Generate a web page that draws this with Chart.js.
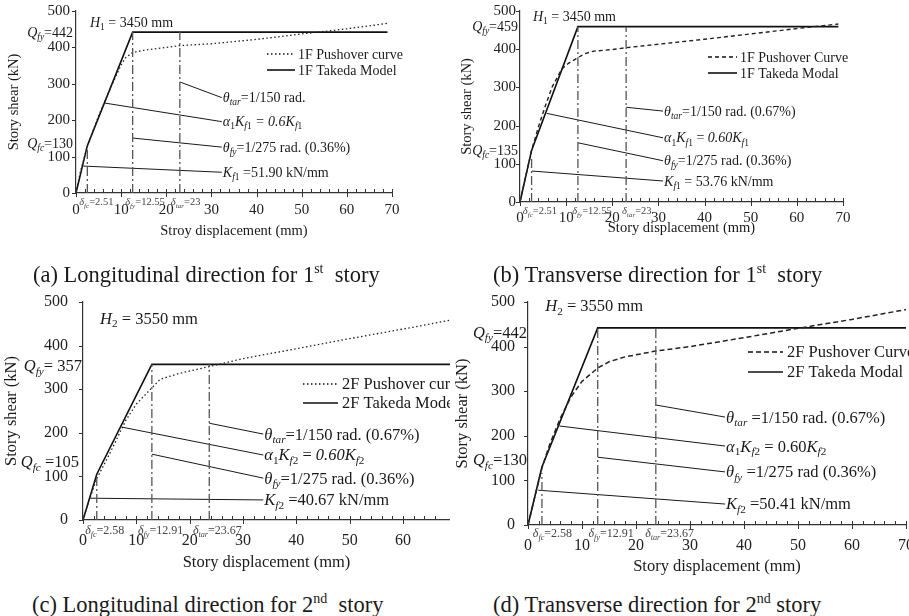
<!DOCTYPE html>
<html>
<head>
<meta charset="utf-8">
<script src="https://cdn.jsdelivr.net/npm/chart.js@4/dist/chart.umd.min.js"></script>
<style>
  body { margin: 0; background: #fff; width: 909px; height: 616px; position: relative; overflow: hidden; font-family: "Liberation Serif", serif; }
  canvas { position: absolute; }
  .cap { position: absolute; font-size: 22.5px; line-height: 26px; color: #1a1a1a; white-space: nowrap; }
  .cap sup { font-size: 14px; }
</style>
</head>
<body>
<canvas id="ca" width="450" height="250" style="left:0;top:0"></canvas>
<canvas id="cb" width="459" height="250" style="left:450px;top:0"></canvas>
<canvas id="cc" width="450" height="300" style="left:0;top:280px"></canvas>
<canvas id="cd" width="459" height="300" style="left:450px;top:280px"></canvas>
<div class="cap" style="left:33px;top:256px">(a) Longitudinal direction for 1<sup>st</sup>&nbsp; story</div>
<div class="cap" style="left:493px;top:256px">(b) Transverse direction for 1<sup>st</sup>&nbsp; story</div>
<div class="cap" style="left:32px;top:586px">(c) Longitudinal direction for 2<sup>nd</sup>&nbsp; story</div>
<div class="cap" style="left:493px;top:586px">(d) Transverse direction for 2<sup>nd</sup> story</div>
<script>
const xMajor = [0, 10, 20, 30, 40, 50, 60, 70];
const yMajor = [0, 100, 200, 300, 400, 500];

// (a) 1F longitudinal
const takedaA = [[0, 0], [2.51, 130], [12.55, 442], [69, 442]];
const pushA = [[0, 0], [1, 60], [2.51, 128], [5, 212], [8, 298], [10, 352], [11, 372], [12.55, 386], [15, 392],
  [20, 400], [23, 405], [30, 410], [40, 422], [50, 437], [60, 451], [69, 466]];
const marksA = [2.51, 12.55, 23];
const markTopsA = [118, 442, 442];
const leadersA = [[23, 305, 32.3, 262], [6.4, 247, 32.3, 196], [12.55, 151, 32.3, 126], [1.6, 74, 32.3, 57]];
const leaderTextA = ['*θ*_{*tar*}=1/150 rad.', '*α*_{1}*K*_{*f*1} *= 0.6K*_{*f*1}', '*θ*_{*fy*}=1/275 rad. (0.36%)', '*K*_{*f*1} =51.90 kN/mm'];
const deltaA = ['*δ*_{*fc*}=2.51', '*δ*_{*fy*}=12.55', '*δ*_{*tar*}=23'];
const deltaXA = [0.7, 10.9, 21];
const qTextA = ['*Q*_{*fy*}=442', '*Q*_{*fc*}=130'];
const qValA = [442, 137];

// (b) 1F transverse
const takedaB = [[0, 0], [2.51, 135], [12.55, 459], [69, 459]];
const pushB = [[0, 0], [1, 55], [2.51, 135], [4, 197], [5.5, 252], [7, 302], [9.1, 349], [10.5, 363], [12.55, 378],
  [14, 388], [16, 395], [20, 399], [23, 404], [30, 413], [40, 426], [50, 440], [60, 454], [69, 466]];
const marksB = [2.51, 12.55, 23];
const markTopsB = [118, 459, 459];
const leadersB = [[23, 248, 31, 238], [5.8, 232, 31, 168], [12.55, 155, 31, 108], [2.6, 81, 31, 55]];
const leaderTextB = ['*θ*_{*tar*}=1/150 rad. (0.67%)', '*α*_{1}*K*_{*f*1} = *0.60K*_{*f*1}', '*θ*_{*fy*}=1/275 rad. (0.36%)', '*K*_{*f*1} = 53.76 kN/mm'];
const deltaB = ['*δ*_{*fc*}=2.51', '*δ*_{*fy*}=12.55', '*δ*_{*tar*}=23'];
const deltaXB = [0.6, 11.3, 22.1];
const qTextB = ['*Q*_{*fy*}=459', '*Q*_{*fc*}=135'];
const qValB = [459, 136];

// (c) 2F longitudinal
const takedaC = [[0, 0], [2.58, 105], [12.91, 357], [70, 357]];
const pushC = [[0, 0], [1, 40], [2.58, 95], [5, 152], [8, 228], [10, 266], [12.91, 303], [14.5, 323], [18, 336],
  [23.67, 352], [30, 370], [40, 393], [50, 416], [60, 438], [70, 461]];
const marksC = [2.58, 12.91, 23.67];
const markTopsC = [100, 357, 357];
const leadersC = [[23.67, 222, 33.8, 197], [7.3, 213, 33.8, 149], [12.91, 151, 33.8, 96], [1.3, 50, 33.8, 46]];
const leaderTextC = ['*θ*_{*tar*}=1/150 rad. (0.67%)', '*α*_{1}*K*_{*f*2} = *0.60K*_{*f*2}', '*θ*_{*fy*}=1/275 rad. (0.36%)', '*K*_{*f*2} =40.67 kN/mm'];
const deltaC = ['*δ*_{*fc*}=2.58', '*δ*_{*fy*}=12.91', '*δ*_{*tar*}=23.67'];
const deltaXC = [0.4, 10.3, 20.6];
const qTextC = ['*Q*_{*fy*}= 357', '*Q*_{*fc*} =105'];
const qValC = [354, 133];

// (d) 2F transverse
const takedaD = [[0, 0], [2.58, 130], [12.91, 442], [70, 442]];
const pushD = [[0, 0], [1, 50], [2.58, 128], [4, 180], [6, 240], [8, 288], [10, 322], [12.91, 352], [15, 366],
  [18, 377], [23.67, 390], [30, 400], [40, 420], [50, 441], [60, 461], [70, 483]];
const marksD = [2.58, 12.91, 23.67];
const markTopsD = [117, 442, 442];
const leadersD = [[23.67, 269, 36.5, 242], [5.8, 222, 36.5, 177], [12.91, 152, 36.5, 119], [1.9, 78, 36.5, 47]];
const leaderTextD = ['*θ*_{*tar*} =1/150 rad. (0.67%)', '*α*_{1}*K*_{*f*2} = 0.60*K*_{*f*2}', '*θ*_{*fy*} =1/275 rad (0.36%)', '*K*_{*f*2} =50.41 kN/mm'];
const deltaD = ['*δ*_{*fc*}=2.58', '*δ*_{*fy*}=12.91', '*δ*_{*tar*}=23.67'];
const deltaXD = [0.9, 11.2, 21.7];
const qTextD = ['*Q*_{*fy*}=442', '*Q*_{*fc*}=130'];
const qValD = [432, 146];

const FONT = '"Liberation Serif", serif';
const INK = '#1a1a1a';

// tiny markup: *..* italic, _{..} subscript
function parseRich(s) {
  const out = [];
  let it = false, sub = false, buf = '';
  const push = () => { if (buf) { out.push({ t: buf, it, sub }); buf = ''; } };
  for (let i = 0; i < s.length; i++) {
    const c = s[i];
    if (c === '*') { push(); it = !it; }
    else if (c === '_' && s[i + 1] === '{') { push(); sub = true; i++; }
    else if (c === '}' && sub) { push(); sub = false; }
    else buf += c;
  }
  push();
  return out;
}

function drawRich(ctx, s, x, y, size, align, color) {
  const segs = parseRich(s);
  const fnt = g => (g.it ? 'italic ' : '') + (g.sub ? size * 0.68 : size) + 'px ' + FONT;
  let w = 0;
  segs.forEach(g => { ctx.font = fnt(g); g.w = ctx.measureText(g.t).width; w += g.w; });
  let cx = align === 'right' ? x - w : x;
  ctx.textBaseline = 'alphabetic';
  ctx.textAlign = 'left';
  ctx.fillStyle = color || INK;
  const base = y + size * 0.33;
  segs.forEach(g => { ctx.font = fnt(g); ctx.fillText(g.t, cx, g.sub ? base + size * 0.22 : base); cx += g.w; });
}

const pts = arr => arr.map(p => ({ x: p[0], y: p[1] }));

function makeChart(id, d) {
  const datasets = [];
  d.marks.forEach((m, i) => datasets.push({
    data: [{ x: m, y: 0 }, { x: m, y: d.markTops[i] }],
    borderColor: '#555', borderWidth: 1.3, borderDash: [9, 3, 2, 3], pointRadius: 0
  }));
  d.leaders.forEach(l => datasets.push({
    data: [{ x: l[0], y: l[1] }, { x: l[2], y: l[3] }],
    borderColor: INK, borderWidth: 1, pointRadius: 0
  }));
  datasets.push({ data: pts(d.push), borderColor: '#222', borderWidth: d.pushWidth, borderDash: d.pushDash, pointRadius: 0 });
  datasets.push({ data: pts(d.takeda), borderColor: '#111', borderWidth: 1.6, pointRadius: 0 });

  const annot = {
    id: 'annot',
    afterDatasetsDraw(chart) {
      const { ctx, scales: { x, y }, chartArea: ca } = chart;
      ctx.save();
      ctx.strokeStyle = '#333';
      ctx.lineWidth = 1;
      x.ticks.forEach(t => {
        if (t.value % 2 !== 0) return;
        const px = Math.round(x.getPixelForValue(t.value)) + 0.5;
        const maj = xMajor.includes(t.value);
        ctx.beginPath();
        ctx.moveTo(px, ca.bottom - 4);
        ctx.lineTo(px, ca.bottom + (maj ? 4 : 0));
        ctx.stroke();
      });
      yMajor.forEach(v => {
        const py = Math.round(y.getPixelForValue(v)) + 0.5;
        ctx.beginPath();
        ctx.moveTo(ca.left - 4, py);
        ctx.lineTo(ca.left, py);
        ctx.stroke();
      });
      d.leaders.forEach((l, i) => {
        drawRich(ctx, d.leaderText[i], x.getPixelForValue(l[2]) + 1, y.getPixelForValue(l[3]), d.fs);
      });
      drawRich(ctx, d.hText, x.getPixelForValue(d.hPos[0]), y.getPixelForValue(d.hPos[1]), d.fs);
      d.qText.forEach((q, i) => {
        drawRich(ctx, q, ca.left - d.qGap[i], y.getPixelForValue(d.qVal[i]), d.qFs, 'right');
      });
      d.delta.forEach((s, i) => {
        drawRich(ctx, s, x.getPixelForValue(d.deltaX[i]), ca.bottom + d.deltaDy, d.dFs, 'left', '#444');
      });
      const lg = d.legend;
      lg.labels.forEach((lab, i) => {
        ctx.beginPath();
        ctx.setLineDash(i === 0 ? d.pushDash : []);
        ctx.lineWidth = i === 0 ? d.pushWidth : 1.6;
        ctx.strokeStyle = '#111';
        ctx.moveTo(lg.x1, lg.ys[i]);
        ctx.lineTo(lg.x2, lg.ys[i]);
        ctx.stroke();
        ctx.setLineDash([]);
        ctx.font = d.fs + 'px ' + FONT;
        ctx.fillStyle = INK;
        ctx.textBaseline = 'middle';
        ctx.textAlign = 'left';
        ctx.fillText(lab, lg.tx, lg.ys[i] + 1);
      });
      ctx.restore();
    }
  };

  return new Chart(document.getElementById(id), {
    type: 'line',
    data: { datasets },
    plugins: [annot],
    options: {
      responsive: false,
      animation: false,
      layout: { padding: d.pad },
      plugins: { legend: { display: false }, tooltip: { enabled: false } },
      scales: {
        x: {
          type: 'linear', min: 0, max: d.xMax,
          border: { display: true, color: '#333', width: 1.2 },
          grid: { display: false, drawTicks: false },
          ticks: {
            stepSize: 2, autoSkip: false, maxRotation: 0, padding: d.xTickPad,
            font: { family: FONT, size: d.tickFs }, color: '#222',
            callback: v => xMajor.includes(v) ? String(v) : ''
          },
          title: { display: true, text: d.xTitle, font: { family: FONT, size: d.tFs }, color: INK, padding: { top: 0, bottom: d.xTitlePad } },
          afterFit: s => { s.height = d.xH; s.paddingLeft = 0; s.paddingRight = 0; }
        },
        y: {
          type: 'linear', min: 0, max: 500,
          border: { display: true, color: '#333', width: 1.2 },
          grid: { display: false, drawTicks: false },
          ticks: {
            stepSize: 100, padding: d.yTickPad,
            font: { family: FONT, size: d.tickFs }, color: '#222',
            callback: v => yMajor.includes(v) ? String(v) : ''
          },
          title: { display: true, text: 'Story shear (kN)', font: { family: FONT, size: d.tFs }, color: INK, padding: { top: d.yTitlePad, bottom: 0 } },
          afterFit: s => { s.width = d.yW; s.paddingTop = 0; s.paddingBottom = 0; }
        }
      }
    }
  });
}

makeChart('ca', {
  takeda: takedaA, push: pushA, pushDash: [1.5, 2.5], pushWidth: 1.3,
  marks: marksA, markTops: markTopsA, leaders: leadersA, leaderText: leaderTextA,
  delta: deltaA, deltaX: deltaXA, deltaDy: 9, dFs: 10.5, qText: qTextA, qVal: qValA, qGap: [3, 3], qFs: 14,
  hText: '*H*_{1} = 3450 mm', hPos: [3.1, 470],
  legend: { x1: 267, x2: 295, tx: 298, ys: [54, 70], labels: ['1F Pushover curve', '1F Takeda Model'] },
  fs: 14, tFs: 14.5, tickFs: 15, xMax: 70, pad: { left: 0, top: 11, right: 58, bottom: 0 },
  xH: 57, yW: 76, xTickPad: 8, yTickPad: 6, xTitle: 'Stroy displacement (mm)', xTitlePad: 10, yTitlePad: 5
});

makeChart('cb', {
  takeda: takedaB, push: pushB, pushDash: [4, 3], pushWidth: 1.4,
  marks: marksB, markTops: markTopsB, leaders: leadersB, leaderText: leaderTextB,
  delta: deltaB, deltaX: deltaXB, deltaDy: 9, dFs: 10.5, qText: qTextB, qVal: qValB, qGap: [2, 2], qFs: 14,
  hText: '*H*_{1} = 3450 mm', hPos: [2.8, 487],
  legend: { x1: 258, x2: 287, tx: 290, ys: [57, 73], labels: ['1F Pushover Curve', '1F Takeda Modal'] },
  fs: 14, tFs: 14.5, tickFs: 15, xMax: 70, pad: { left: 0, top: 11, right: 66, bottom: 0 },
  xH: 48, yW: 70, xTickPad: 7, yTickPad: 4, xTitle: 'Story displacement (mm)', xTitlePad: 13, yTitlePad: 8
});

makeChart('cc', {
  takeda: takedaC, push: pushC, pushDash: [1.5, 2.5], pushWidth: 1.3,
  marks: marksC, markTops: markTopsC, leaders: leadersC, leaderText: leaderTextC,
  delta: deltaC, deltaX: deltaXC, deltaDy: 10, dFs: 12, qText: qTextC, qVal: qValC, qGap: [1, 4], qFs: 16.5,
  hText: '*H*_{2} = 3550 mm', hPos: [3.2, 463],
  legend: { x1: 303, x2: 338, tx: 342, ys: [104, 123], labels: ['2F Pushover curve', '2F Takeda Model'] },
  fs: 16.5, tFs: 16.5, tickFs: 16, xMax: 68.8, pad: { left: 0, top: 22, right: 0, bottom: 0 },
  xH: 60, yW: 83, xTickPad: 11, yTickPad: 15, xTitle: 'Story displacement (mm)', xTitlePad: 7, yTitlePad: 2
});

makeChart('cd', {
  takeda: takedaD, push: pushD, pushDash: [5, 3], pushWidth: 1.5,
  marks: marksD, markTops: markTopsD, leaders: leadersD, leaderText: leaderTextD,
  delta: deltaD, deltaX: deltaXD, deltaDy: 8, dFs: 12, qText: qTextD, qVal: qValD, qGap: [1, 1], qFs: 16.5,
  hText: '*H*_{2} = 3550 mm', hPos: [3.2, 491],
  legend: { x1: 298, x2: 333, tx: 337, ys: [72, 92], labels: ['2F Pushover Curve', '2F Takeda Modal'] },
  fs: 16.5, tFs: 16.5, tickFs: 16, xMax: 70, pad: { left: 0, top: 22, right: 3, bottom: 0 },
  xH: 55, yW: 78, xTickPad: 11, yTickPad: 13, xTitle: 'Story displacement (mm)', xTitlePad: 3, yTitlePad: 3
});
</script>
</body>
</html>
